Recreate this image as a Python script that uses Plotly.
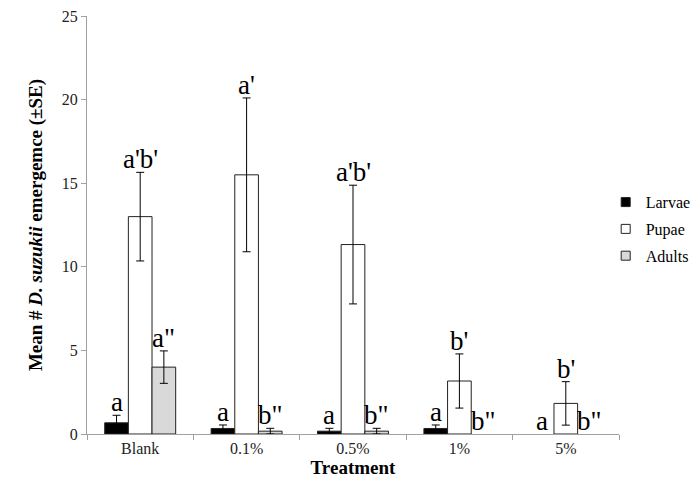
import plotly.graph_objects as go

treatments = ["Blank", "0.1%", "0.5%", "1%", "5%"]
larvae = [0.67, 0.33, 0.17, 0.33, 0.0]
larvae_se = [0.45, 0.21, 0.17, 0.21, 0.0]
pupae = [13.0, 15.5, 11.33, 3.17, 1.83]
pupae_se = [2.65, 4.6, 3.55, 1.62, 1.3]
adults = [4.0, 0.17, 0.17, 0.0, 0.0]
adults_se = [0.97, 0.17, 0.17, 0.0, 0.0]
larvae_lbl = ["a", "a", "a", "a", "a"]
pupae_lbl = ["a'b'", "a'", "a'b'", "b'", "b'"]
adults_lbl = ['a"', 'b"', 'b"', 'b"', 'b"']

FONT = "Liberation Serif"

def nz(vals):
    return [v if v > 0 else None for v in vals]

fig = go.Figure()
series = [
    ("Larvae", larvae, larvae_se, "black"),
    ("Pupae", pupae, pupae_se, "white"),
    ("Adults", adults, adults_se, "#d9d9d9"),
]
for name, vals, se, col in series:
    fig.add_trace(go.Bar(
        name=name, x=treatments, y=nz(vals), showlegend=False,
        marker=dict(color=col, line=dict(color="#222222", width=1)),
        error_y=dict(type="data", array=nz(se), visible=True,
                     color="black", thickness=1, width=4),
    ))
for name, vals, se, col in series:
    fig.add_trace(go.Scatter(
        name=name, x=[None], y=[None], mode="markers", legendgroup=name,
        marker=dict(symbol="square", size=9, color=col,
                    line=dict(color="#222222", width=1)),
    ))

offsets = [-0.222, 0.0, 0.222]
annots = []
for k, (vals, se, lbls) in enumerate([(larvae, larvae_se, larvae_lbl),
                                     (pupae, pupae_se, pupae_lbl),
                                     (adults, adults_se, adults_lbl)]):
    for i in range(len(treatments)):
        annots.append(dict(
            x=i + offsets[k], y=vals[i] + se[i], xref="x", yref="y",
            text=lbls[i], showarrow=False, yanchor="bottom",
            font=dict(family=FONT, size=27, color="black"), yshift=-4,
        ))

fig.update_layout(
    width=700, height=481,
    margin=dict(l=79, r=89, t=8, b=55),
    plot_bgcolor="white", paper_bgcolor="white",
    barmode="group", bargap=0.333, bargroupgap=0,
    font=dict(family=FONT, color="black"),
    annotations=annots,
    showlegend=True,
    legend=dict(x=0.975, y=0.49, xanchor="left", yanchor="middle",
                font=dict(family=FONT, size=16, color="black"),
                tracegroupgap=3, itemwidth=30, bgcolor="rgba(0,0,0,0)"),
    xaxis=dict(
        title=dict(text="<b>Treatment</b>", font=dict(family=FONT, size=19, color="black"), standoff=4),
        showline=True, linecolor="#a0a0a0", linewidth=1, automargin=False,
        ticks="outside", tickson="boundaries", ticklen=5, tickcolor="#a0a0a0",
        tickfont=dict(family=FONT, size=16, color="#222222"),
    ),
    yaxis=dict(
        title=dict(text="<b>Mean # <i>D. suzukii</i> emergemce (±SE)</b>",
                   font=dict(family=FONT, size=19, color="black"), standoff=14),
        range=[0, 25], tickvals=[0, 5, 10, 15, 20, 25], automargin=False,
        ticklabeloverflow="allow",
        showline=True, linecolor="#a0a0a0", linewidth=1,
        ticks="outside", ticklen=5, tickcolor="#a0a0a0",
        showgrid=False, zeroline=False,
        tickfont=dict(family=FONT, size=16, color="#222222"),
    ),
)

fig.write_html("out.html")
